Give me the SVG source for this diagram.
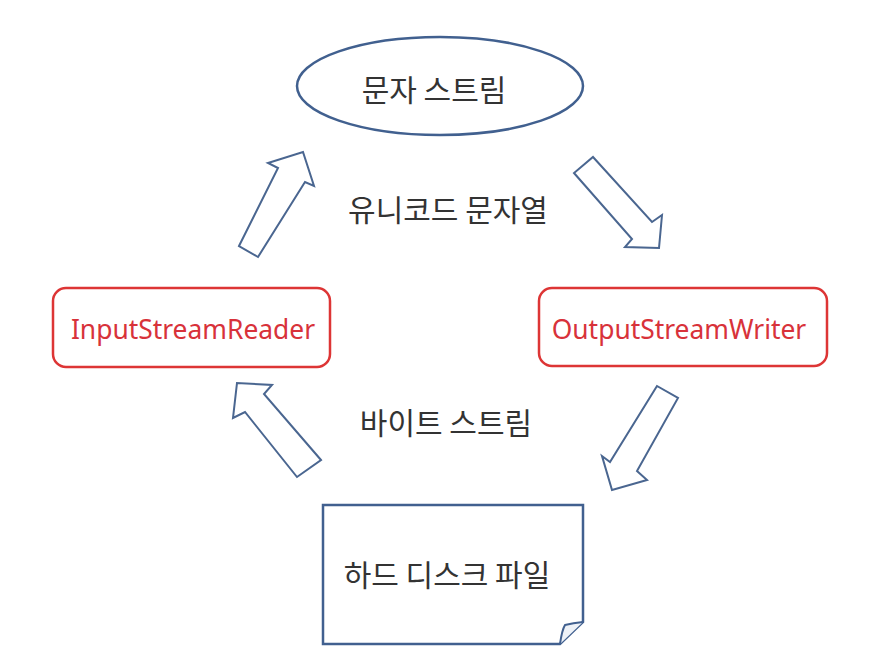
<svg xmlns="http://www.w3.org/2000/svg" width="869" height="672" viewBox="0 0 869 672">
<style>
.kr{font-family:"Noto Sans CJK KR","Noto Sans",sans-serif;font-size:30px;fill:#333;text-anchor:middle}
.en{font-family:"Noto Sans","Liberation Sans",sans-serif;font-size:26.4px;fill:#d8323a;text-anchor:middle}
.box{fill:#fff;stroke:#dd3535;stroke-width:2.5}
.blue{fill:#fff;stroke:#41608f;stroke-width:2.5}
.arrow{fill:#fff;stroke:#4a6690;stroke-width:2;stroke-linejoin:miter}
</style>
<rect width="869" height="672" fill="#fff"/>
<g id="char-stream">
<ellipse class="blue" cx="440" cy="86" rx="143" ry="49"/>
<text class="kr" x="434" y="101">문자 스트림</text>
</g>
<g id="input-stream-reader">
<rect class="box" x="53" y="288" width="277" height="79" rx="13"/>
<text class="en" x="193" y="339">InputStreamReader</text>
</g>
<g id="output-stream-writer">
<rect class="box" x="539" y="288" width="288" height="78" rx="13"/>
<text class="en" x="679" y="339">OutputStreamWriter</text>
</g>
<g id="hard-disk-file">
<path class="blue" stroke-width="3" d="M323,505 H583 V622 L560,644 H323 Z"/>
<path fill="#eef2f8" stroke="#41608f" stroke-width="2" d="M560,644 Q562,630 565,625 Q573,623 583,622"/>
<text class="kr" x="447" y="586">하드 디스크 파일</text>
</g>
<g id="labels">
<text class="kr" x="448" y="221">유니코드 문자열</text>
<text class="kr" x="446" y="434">바이트 스트림</text>
</g>
<g id="connectors">
<polygon class="arrow" points="239,246 278,168 268,163 303,152 314,186 305,182 258,257"/>
<polygon class="arrow" points="593,157 652,222 662,215 659,248 625,247 632,239 574,173"/>
<polygon class="arrow" points="321,460 264,394 272,385 237,383 233,418 245,412 297,477"/>
<polygon class="arrow" points="657,386 610,462 602,456 612,490 647,480 637,471 678,398"/>
</g>
</svg>
